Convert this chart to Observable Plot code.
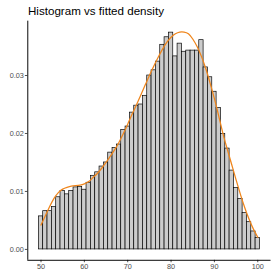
<!DOCTYPE html>
<html><head><meta charset="utf-8">
<script src="https://cdn.jsdelivr.net/npm/d3@7"></script>
<script src="https://cdn.jsdelivr.net/npm/@observablehq/plot@0.6"></script>
<style>
body{margin:0;background:#fff;}
#wrap{position:relative;width:271px;height:276px;overflow:hidden;}
#title{position:absolute;left:28px;top:4px;font:11.6px "Liberation Sans",Arial,sans-serif;color:#000;white-space:nowrap;}
#chart{position:absolute;left:0;top:20px;}
</style></head>
<body><div id="wrap"><div id="title">Histogram vs fitted density</div><div id="chart"></div></div>
<script>
const title = "Histogram vs fitted density";
const binCenters = [50,51,52,53,54,55,56,57,58,59,60,61,62,63,64,65,66,67,68,69,70,71,72,73,74,75,76,77,78,79,80,81,82,83,84,85,86,87,88,89,90,91,92,93,94,95,96,97,98,99,100];
const binDensity = [0.0057,0.0066,0.0066,0.0073,0.0090,0.0101,0.0095,0.0101,0.0107,0.0108,0.0103,0.0115,0.0127,0.0133,0.0143,0.0150,0.0167,0.0175,0.0181,0.0206,0.0212,0.0236,0.0248,0.0250,0.0265,0.0300,0.0309,0.0324,0.0353,0.0366,0.0374,0.0333,0.0355,0.0341,0.0343,0.0343,0.0343,0.0361,0.0314,0.0297,0.0272,0.0244,0.0199,0.0174,0.0136,0.0106,0.0087,0.0063,0.0047,0.0031,0.0020];
const binWidth = 1;
const curveX = [50,51,52,53,54,55,56,57,58,59,60,61,62,63,64,65,66,67,68,69,70,71,72,73,74,75,76,77,78,79,80,81,82,83,84,85,86,87,88,89,90,91,92,93,94,95,96,97,98,99,100];
const curveY = [0.0042,0.0058,0.0074,0.0088,0.0098,0.0104,0.0107,0.0109,0.0110,0.0111,0.0113,0.0117,0.0124,0.0131,0.0140,0.0150,0.0161,0.0172,0.0185,0.0200,0.0216,0.0233,0.0249,0.0266,0.0283,0.0300,0.0316,0.0331,0.0345,0.0357,0.0366,0.0372,0.0375,0.0375,0.0372,0.0363,0.0350,0.0333,0.0312,0.0287,0.0260,0.0230,0.0199,0.0172,0.0146,0.0120,0.0095,0.0072,0.0052,0.0035,0.0021];
const xTicks = [50,60,70,80,90,100];
const yTicks = [0,0.01,0.02,0.03];

const bars = binCenters.map((c,i)=>({x1:c-binWidth/2, x2:c+binWidth/2, y:binDensity[i]}));
const curve = curveX.map((x,i)=>({x, y:curveY[i]}));
const xDom = [46.95, 103.05];
const yDom = [-0.001875, 0.039375];

const chart = Plot.plot({
  width: 278, height: 256,
  marginLeft: 28, marginRight: 0.5, marginTop: 0.7, marginBottom: 10,
  style: {fontFamily: '"Liberation Sans", Arial, sans-serif', fontSize: "7.5px", color: "#4d4d4d", background: "transparent", overflow: "visible"},
  x: {domain: xDom, ticks: xTicks, tickSize: 2.5, tickPadding: 1.5, tickFormat: d=>String(d), label: null},
  y: {domain: yDom, ticks: yTicks, tickSize: 2.5, tickPadding: 1.5, tickFormat: d3.format(".2f"), label: null},
  marks: [
    Plot.rectY(bars, {x1:"x1", x2:"x2", y1:0, y2:"y", fill:"#cccccc", stroke:"#000", strokeWidth:0.7}),
    Plot.line(curve, {x:"x", y:"y", stroke:"#ef861d", strokeWidth:1.3, curve:"natural"}),
    Plot.ruleX([xDom[0]], {stroke:"#000", strokeWidth:1}),
    Plot.ruleY([yDom[0]], {stroke:"#000", strokeWidth:1})
  ]
});
document.getElementById("chart").appendChild(chart);
</script></body></html>
